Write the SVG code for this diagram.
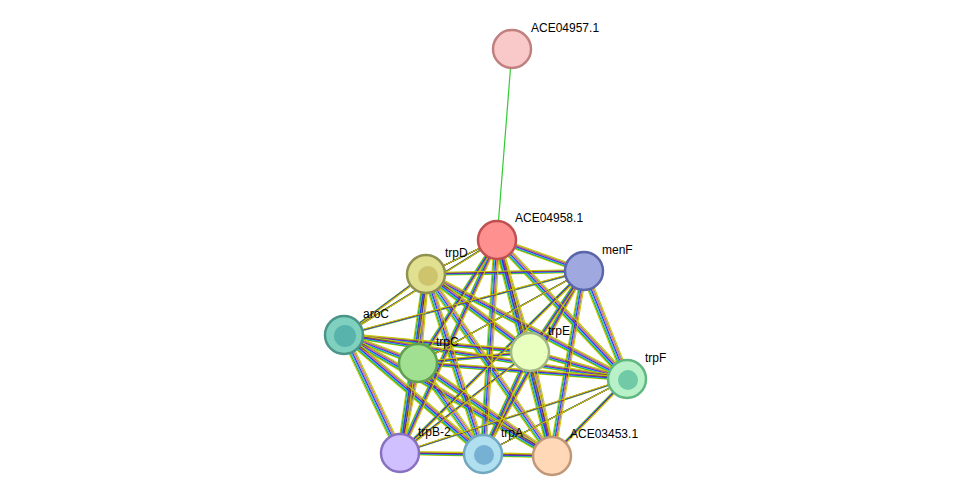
<svg xmlns="http://www.w3.org/2000/svg" xmlns:xlink="http://www.w3.org/1999/xlink" width="976" height="501" viewBox="0 0 976 501">
<style>
.e{fill:none;stroke-width:1.1}
.n{stroke-width:2.5}
text{font-family:"Liberation Sans",Arial,sans-serif;font-size:12px;fill:#000}
</style>
<defs>
<path id="all" d="M497 240L426 274M497 240L584 271M497 240L344 335M497 240L418 363M497 240L530 352M497 240L627 379M497 240L400 453M497 240L483 454M497 240L552 456M426 274L584 271M426 274L344 335M426 274L418 363M426 274L530 352M426 274L627 379M426 274L400 453M426 274L483 454M426 274L552 456M584 271L344 335M584 271L418 363M584 271L530 352M584 271L627 379M584 271L400 453M584 271L483 454M584 271L552 456M344 335L418 363M344 335L530 352M344 335L627 379M344 335L400 453M344 335L483 454M344 335L552 456M418 363L530 352M418 363L627 379M418 363L400 453M418 363L483 454M418 363L552 456M530 352L627 379M530 352L400 453M530 352L483 454M530 352L552 456M627 379L400 453M627 379L483 454M627 379L552 456M400 453L483 454M400 453L552 456M483 454L552 456"/>
</defs>
<rect width="976" height="501" fill="#fff"/>
<g id="connectors">
<line x1="512" y1="49" x2="497" y2="240" stroke="#33cc33" stroke-width="1.2"/>
<use xlink:href="#all" class="e" stroke="#c8c800" transform="translate(-3,1.5)"/>
<use xlink:href="#all" class="e" stroke="#22b022" transform="translate(-2,1)"/>
<use xlink:href="#all" class="e" stroke="#33bbee" transform="translate(-1,0.5)"/>
<use xlink:href="#all" class="e" stroke="#2a2aff"/>
<use xlink:href="#all" class="e" stroke="#ee2222" stroke-opacity="0.6" transform="translate(1,-0.5)"/>
<use xlink:href="#all" class="e" stroke="#222" stroke-opacity="0.5" transform="translate(2,-1)"/>
<use xlink:href="#all" class="e" stroke="#c8c800" transform="translate(3,-1.5)"/>
</g>
<g id="ACE04957.1"><circle class="n" cx="512" cy="49" r="19" fill="#f9c8c8" stroke="#c08080"/><text x="531" y="32">ACE04957.1</text></g>
<g id="ACE04958.1"><circle class="n" cx="497" cy="240" r="19" fill="#ff9090" stroke="#c05050"/><text x="515" y="222">ACE04958.1</text></g>
<g id="trpD"><circle class="n" cx="426" cy="274" r="19" fill="#e0e090" stroke="#909050"/><circle cx="428" cy="276" r="10" fill="#c8b860" opacity="0.7"/><text x="445" y="257">trpD</text></g>
<g id="menF"><circle class="n" cx="584" cy="271" r="19" fill="#a0a8e0" stroke="#5a66a8"/><text x="602" y="254">menF</text></g>
<g id="aroC"><circle class="n" cx="344" cy="335" r="19" fill="#80d0c0" stroke="#4a9488"/><circle cx="345" cy="336" r="11" fill="#40a0a0" opacity="0.6"/><text x="363" y="318">aroC</text></g>
<g id="trpC"><circle class="n" cx="418" cy="363" r="19" fill="#a0e090" stroke="#60a050"/><text x="436" y="346">trpC</text></g>
<g id="trpE"><circle class="n" cx="530" cy="352" r="19" fill="#e8ffc0" stroke="#a0b880"/><text x="548" y="335">trpE</text></g>
<g id="trpF"><circle class="n" cx="627" cy="379" r="19" fill="#b8f0c8" stroke="#60b880"/><circle cx="628" cy="380" r="10" fill="#40b090" opacity="0.6"/><text x="645" y="362">trpF</text></g>
<g id="trpB-2"><circle class="n" cx="400" cy="453" r="19" fill="#d0c0ff" stroke="#8a70c0"/><text x="418" y="436">trpB-2</text></g>
<g id="trpA"><circle class="n" cx="483" cy="454" r="19" fill="#b0e0f0" stroke="#70a8c0"/><circle cx="484" cy="455" r="10" fill="#5090c0" opacity="0.6"/><text x="501" y="437">trpA</text></g>
<g id="ACE03453.1"><circle class="n" cx="552" cy="456" r="19" fill="#ffd8b8" stroke="#c09878"/><text x="570" y="438">ACE03453.1</text></g>
</svg>
